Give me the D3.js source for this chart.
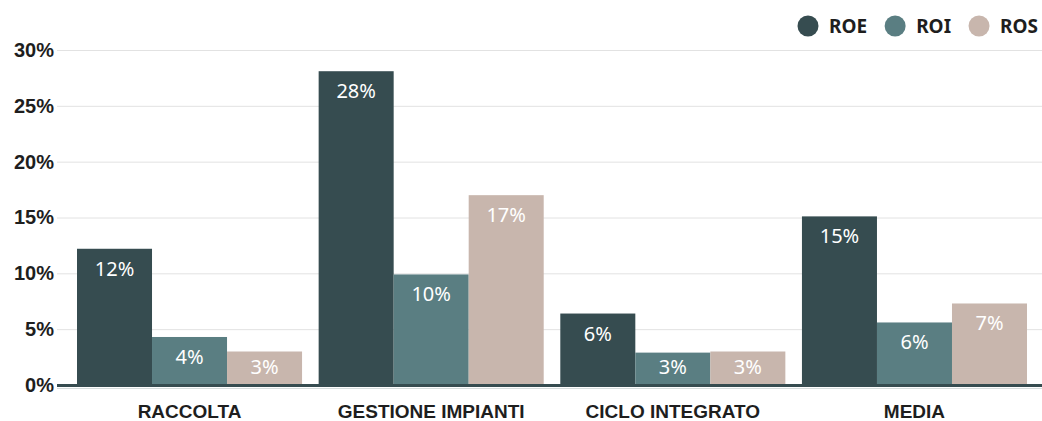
<!DOCTYPE html>
<html>
<head>
<meta charset="utf-8">
<script src="https://cdn.jsdelivr.net/npm/d3@7"></script>
<style>
  body { margin: 0; background: #fff; }
  svg { display: block; font-family: "Noto Sans", "Open Sans", sans-serif; }
  .grid line { stroke: #e2e2e2; stroke-width: 1; }
  .grid text { font-size: 20px; font-weight: 700; fill: #1e1e1e; }
  .xaxis text { font-size: 19px; font-weight: 700; fill: #1e1e1e; }
  .lbl { font-size: 20px; fill: #fff; }
  .legend text { font-size: 19px; font-weight: 700; fill: #1e1e1e; }
</style>
</head>
<body>
<script>
// data (percent)
var categories = ["RACCOLTA", "GESTIONE IMPIANTI", "CICLO INTEGRATO", "MEDIA"];
var seriesKeys = ["ROE", "ROI", "ROS"];
var roe = [12.2, 28.1, 6.4, 15.1];
var roi = [4.3, 9.9, 2.9, 5.6];
var ros = [3.0, 17.0, 3.0, 7.3];
var yTicks = [0, 5, 10, 15, 20, 25, 30];

var colors = {ROE: "#364c50", ROI: "#5a7e82", ROS: "#c8b6ad"};

var width = 1042, height = 421;
var svg = d3.select("body").append("svg")
    .attr("width", width)
    .attr("height", height);

var plotLeft = 57, plotRight = 1042, y0 = 385, yTop = 50;

var y = d3.scaleLinear().domain([0, 30]).range([y0, yTop]);
var x = d3.scaleBand().domain(categories).range([77, 1027]).paddingInner(0.0687).paddingOuter(0);
var xs = d3.scaleBand().domain(seriesKeys).range([0, x.bandwidth()]).padding(0);

// gridlines + y labels
var grid = svg.append("g")
    .attr("class", "grid")
    .attr("transform", "translate(" + plotLeft + ",0)")
    .call(d3.axisLeft(y)
        .tickValues(yTicks)
        .tickSize(-(plotRight - plotLeft))
        .tickPadding(3)
        .tickFormat(function(d) { return d + "%"; }));
grid.select(".domain").remove();

var rows = categories.map(function(c, i) {
  return {cat: c, values: {ROE: roe[i], ROI: roi[i], ROS: ros[i]}};
});

var groups = svg.selectAll(".group")
    .data(rows)
    .enter().append("g")
    .attr("class", "group")
    .attr("transform", function(d) { return "translate(" + x(d.cat) + ",0)"; });

groups.selectAll("rect")
    .data(function(d) { return seriesKeys.map(function(k) { return {key: k, value: d.values[k]}; }); })
    .enter().append("rect")
    .attr("x", function(d) { return xs(d.key); })
    .attr("width", xs.bandwidth())
    .attr("y", function(d) { return y(d.value); })
    .attr("height", function(d) { return y0 - y(d.value); })
    .attr("fill", function(d) { return colors[d.key]; });

groups.selectAll(".lbl")
    .data(function(d) { return seriesKeys.map(function(k) { return {key: k, value: d.values[k]}; }); })
    .enter().append("text")
    .attr("class", "lbl")
    .attr("x", function(d) { return xs(d.key) + xs.bandwidth() / 2; })
    .attr("y", function(d) { return Math.min(y(d.value) + 20, y0 - 18); })
    .attr("dy", "0.35em")
    .attr("text-anchor", "middle")
    .text(function(d) { return Math.round(d.value) + "%"; });

// baseline
svg.append("line")
    .attr("x1", plotLeft).attr("x2", plotRight)
    .attr("y1", y0 + 0.5).attr("y2", y0 + 0.5)
    .attr("stroke", "#364c50")
    .attr("stroke-width", 3);
svg.append("line")
    .attr("x1", plotLeft).attr("x2", plotRight)
    .attr("y1", y0 + 3.5).attr("y2", y0 + 3.5)
    .attr("stroke", "#d6dddd")
    .attr("stroke-width", 1);

// x axis labels
var xAxis = svg.append("g")
    .attr("class", "xaxis")
    .attr("transform", "translate(0," + y0 + ")")
    .call(d3.axisBottom(x).tickSize(0).tickPadding(20));
xAxis.select(".domain").remove();

// legend
var legend = svg.append("g").attr("class", "legend");
var cx = 808;
seriesKeys.forEach(function(k) {
  legend.append("circle")
      .attr("cx", cx).attr("cy", 26).attr("r", 10.5)
      .attr("fill", colors[k]);
  var t = legend.append("text")
      .attr("x", cx + 21).attr("y", 26)
      .attr("dy", "0.35em")
      .text(k);
  cx = cx + 21 + t.node().getComputedTextLength() + 28;
});
</script>
</body>
</html>
